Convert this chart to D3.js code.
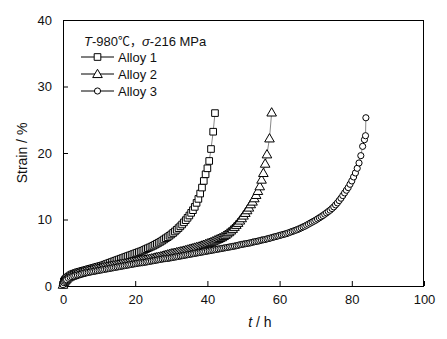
<!DOCTYPE html>
<html>
<head>
<meta charset="utf-8">
<script src="https://cdn.jsdelivr.net/npm/d3@7"></script>
<style>
  html, body { margin: 0; padding: 0; background: #fff; }
  svg { display: block; font-family: "Liberation Sans", Arial, sans-serif; }
</style>
</head>
<body>
<svg id="chart" width="447" height="339"></svg>
<script>
// ---- data (time h, strain %) ----
const seriesNames = ["Alloy 1", "Alloy 2", "Alloy 3"];
const alloy1 = [[0,0.2],[0.25,0.7],[0.5,0.9],[0.75,1.05],[1,1.2],[1.5,1.4],[2,1.6],[2.5,1.75],[3,1.85],[3.5,1.95],[4,2.05],[4.5,2.12],[5,2.2],[5.5,2.28],[6,2.35],[6.5,2.42],[7,2.5],[7.5,2.58],[8,2.65],[8.5,2.72],[9,2.8],[9.5,2.88],[10,2.95],[10.5,3.02],[11,3.1],[11.5,3.2],[12,3.3],[12.5,3.4],[13,3.5],[13.5,3.6],[14,3.7],[14.5,3.8],[15,3.9],[15.5,4.0],[16,4.1],[16.5,4.2],[17,4.3],[17.5,4.4],[18,4.5],[18.5,4.6],[19,4.7],[19.5,4.8],[20,4.9],[20.5,5.0],[21,5.1],[21.5,5.2],[22,5.3],[22.5,5.42],[23,5.55],[23.5,5.68],[24,5.8],[24.5,5.92],[25,6.05],[25.5,6.2],[26,6.35],[26.5,6.5],[27,6.65],[27.5,6.82],[28,7.0],[28.5,7.18],[29,7.35],[29.5,7.55],[30,7.75],[30.5,7.97],[31,8.2],[31.5,8.45],[32,8.7],[32.5,8.97],[33,9.25],[33.5,9.57],[34,9.9],[34.5,10.25],[35,10.6],[35.5,11.0],[36,11.4],[36.5,11.9],[37,12.5],[37.5,13.1],[38,13.9],[38.5,14.8],[39,15.8],[39.5,16.8],[40,17.7],[40.5,18.8],[41,20.6],[41.6,23.2],[42.1,26.0]];
const alloy2 = [[0,0.2],[0.25,0.6],[0.5,0.8],[0.75,0.95],[1,1.1],[1.5,1.3],[2,1.45],[2.5,1.55],[3,1.65],[3.5,1.75],[4,1.85],[4.5,1.92],[5,2.0],[5.5,2.08],[6,2.15],[6.5,2.22],[7,2.3],[7.5,2.35],[8,2.4],[8.5,2.48],[9,2.55],[9.5,2.6],[10,2.65],[10.5,2.72],[11,2.8],[11.5,2.85],[12,2.9],[12.5,2.95],[13,3.0],[13.5,3.05],[14,3.1],[14.5,3.15],[15,3.2],[15.5,3.25],[16,3.3],[16.5,3.35],[17,3.4],[17.5,3.45],[18,3.5],[18.5,3.55],[19,3.6],[19.5,3.65],[20,3.7],[20.5,3.75],[21,3.8],[21.5,3.85],[22,3.9],[22.5,3.95],[23,4.0],[23.5,4.05],[24,4.1],[24.5,4.15],[25,4.2],[25.5,4.28],[26,4.35],[26.5,4.4],[27,4.45],[27.5,4.52],[28,4.6],[28.5,4.68],[29,4.75],[29.5,4.82],[30,4.9],[30.5,4.95],[31,5.0],[31.5,5.08],[32,5.15],[32.5,5.2],[33,5.25],[33.5,5.32],[34,5.4],[34.5,5.48],[35,5.55],[35.5,5.62],[36,5.7],[36.5,5.78],[37,5.85],[37.5,5.92],[38,6.0],[38.5,6.1],[39,6.2],[39.5,6.3],[40,6.4],[40.5,6.5],[41,6.6],[41.5,6.72],[42,6.85],[42.5,6.98],[43,7.1],[43.5,7.22],[44,7.35],[44.5,7.52],[45,7.7],[45.5,7.9],[46,8.1],[46.5,8.35],[47,8.6],[47.5,8.9],[48,9.2],[48.5,9.5],[49,9.85],[49.5,10.2],[50,10.6],[50.5,11.0],[51,11.4],[51.5,11.8],[52,12.3],[52.5,12.7],[53,13.2],[53.5,13.7],[54,14.3],[54.5,15.0],[55,16.0],[55.5,17.0],[56,18.4],[56.5,19.8],[57.2,22.2],[57.8,26.1]];
const alloy3 = [[0,0.2],[0.25,0.5],[0.5,0.7],[0.75,0.85],[1,0.95],[1.5,1.15],[2,1.3],[2.5,1.4],[3,1.5],[3.5,1.58],[4,1.65],[4.5,1.72],[5,1.8],[5.5,1.88],[6,1.95],[6.5,2.0],[7,2.05],[7.5,2.1],[8,2.15],[8.5,2.2],[9,2.25],[9.5,2.3],[10,2.35],[10.5,2.4],[11,2.45],[11.5,2.5],[12,2.55],[12.5,2.6],[13,2.65],[13.5,2.7],[14,2.75],[14.5,2.8],[15,2.85],[15.5,2.9],[16,2.95],[16.5,3.0],[17,3.05],[17.5,3.1],[18,3.15],[18.5,3.2],[19,3.25],[19.5,3.3],[20,3.35],[20.5,3.4],[21,3.45],[21.5,3.48],[22,3.5],[22.5,3.55],[23,3.6],[23.5,3.65],[24,3.7],[24.5,3.75],[25,3.8],[25.5,3.85],[26,3.9],[26.5,3.95],[27,4.0],[27.5,4.05],[28,4.1],[28.5,4.12],[29,4.15],[29.5,4.2],[30,4.25],[30.5,4.3],[31,4.35],[31.5,4.4],[32,4.45],[32.5,4.5],[33,4.55],[33.5,4.6],[34,4.65],[34.5,4.7],[35,4.75],[35.5,4.8],[36,4.85],[36.5,4.9],[37,4.95],[37.5,5.0],[38,5.05],[38.5,5.1],[39,5.15],[39.5,5.2],[40,5.25],[40.5,5.3],[41,5.35],[41.5,5.4],[42,5.45],[42.5,5.5],[43,5.55],[43.5,5.6],[44,5.65],[44.5,5.7],[45,5.75],[45.5,5.8],[46,5.85],[46.5,5.9],[47,5.95],[47.5,6.0],[48,6.05],[48.5,6.12],[49,6.2],[49.5,6.25],[50,6.3],[50.5,6.35],[51,6.4],[51.5,6.45],[52,6.5],[52.5,6.58],[53,6.65],[53.5,6.7],[54,6.75],[54.5,6.82],[55,6.9],[55.5,6.95],[56,7.0],[56.5,7.08],[57,7.15],[57.5,7.22],[58,7.3],[58.5,7.38],[59,7.45],[59.5,7.52],[60,7.6],[60.5,7.68],[61,7.75],[61.5,7.82],[62,7.9],[62.5,8.0],[63,8.1],[63.5,8.2],[64,8.3],[64.5,8.4],[65,8.5],[65.5,8.62],[66,8.75],[66.5,8.88],[67,9.0],[67.5,9.15],[68,9.3],[68.5,9.45],[69,9.6],[69.5,9.75],[70,9.9],[70.5,10.08],[71,10.25],[71.5,10.42],[72,10.6],[72.5,10.8],[73,11.0],[73.5,11.2],[74,11.4],[74.5,11.65],[75,11.9],[75.5,12.2],[76,12.5],[76.5,12.85],[77,13.2],[77.5,13.6],[78,14.0],[78.5,14.4],[79,14.8],[79.5,15.3],[80,15.8],[80.5,16.4],[81,17.0],[81.5,17.7],[82,18.5],[82.5,19.6],[83,21.0],[83.5,22.0],[83.8,22.6],[83.9,25.3]];
const xTicks = [0, 20, 40, 60, 80, 100];
const yTicks = [0, 10, 20, 30, 40];

// ---- layout ----
const svg = d3.select("#chart");
const L = 63, R = 424, T = 20, B = 286;
const x = d3.scaleLinear().domain([0, 100]).range([L, R]);
const y = d3.scaleLinear().domain([0, 40]).range([B, T]);

// axes
const xAxis = d3.axisBottom(x).tickValues(xTicks).tickSizeInner(-5).tickSizeOuter(0).tickPadding(9);
const gx = svg.append("g").attr("transform", `translate(0,${B})`).call(xAxis);
const yAxis = d3.axisLeft(y).tickValues(yTicks).tickSizeInner(-5).tickSizeOuter(0).tickPadding(11);
const gy = svg.append("g").attr("transform", `translate(${L},0)`).call(yAxis);
[gx, gy].forEach(g => {
  g.select(".domain").remove();
  g.selectAll("line").attr("stroke", "#000").attr("stroke-width", 1);
  g.selectAll("text").attr("font-size", 13).attr("fill", "#111")
    .attr("font-family", "'Liberation Sans', Arial, sans-serif");
});

// frame
svg.append("rect").attr("x", L + 0.5).attr("y", T + 0.5)
  .attr("width", R - L - 1).attr("height", B - T)
  .attr("fill", "none").attr("stroke", "#000").attr("stroke-width", 1);

// axis titles
svg.append("text").attr("transform", `translate(27,${(T + B) / 2}) rotate(-90)`)
  .attr("text-anchor", "middle").attr("font-size", 14).attr("fill", "#111")
  .text("Strain / %");
const xt = svg.append("text").attr("x", 260).attr("y", 327)
  .attr("text-anchor", "middle").attr("font-size", 14).attr("fill", "#111");
xt.append("tspan").attr("font-style", "italic").text("t");
xt.append("tspan").text(" / h");

// series
const data = [alloy1, alloy2, alloy3];
const symbols = [d3.symbolSquare, d3.symbolTriangle, d3.symbolCircle];
const sizes = [44, 40, 30];
const line = d3.line().x(d => x(d[0])).y(d => y(d[1]));

data.forEach((ser, i) => {
  svg.append("path").datum(ser).attr("d", line)
    .attr("fill", "none").attr("stroke", "#888").attr("stroke-width", 1);
});
data.forEach((ser, i) => {
  const sym = d3.symbol().type(symbols[i]).size(sizes[i]);
  svg.append("g").selectAll("path").data(ser).join("path")
    .attr("transform", d => `translate(${x(d[0])},${y(d[1]) + (i === 1 ? 0.8 : 0)})`)
    .attr("d", sym)
    .attr("fill", "#fff").attr("stroke", "#000").attr("stroke-width", 1);
});

// legend
const lg = svg.append("g");
const title = lg.append("text").attr("x", 84).attr("y", 46).attr("font-size", 13).attr("fill", "#111");
title.append("tspan").attr("font-style", "italic").text("T");
title.append("tspan").text("-980");
title.append("tspan").attr("font-family", "'Noto Sans CJK SC', sans-serif").attr("font-size", 12).text("℃，");
title.append("tspan").attr("font-style", "italic").text("σ");
title.append("tspan").text("-216 MPa");

seriesNames.forEach((name, i) => {
  const cy = 57 + i * 17;
  lg.append("line").attr("x1", 81).attr("x2", 114).attr("y1", cy).attr("y2", cy)
    .attr("stroke", "#000").attr("stroke-width", 1);
  lg.append("path").attr("transform", `translate(97.5,${cy + (i === 1 ? 0.8 : 0)})`)
    .attr("d", d3.symbol().type(symbols[i]).size(sizes[i])())
    .attr("fill", "#fff").attr("stroke", "#000").attr("stroke-width", 1);
  lg.append("text").attr("x", 118).attr("y", cy + 5).attr("font-size", 13).attr("fill", "#111").text(name);
});
</script>
</body>
</html>
